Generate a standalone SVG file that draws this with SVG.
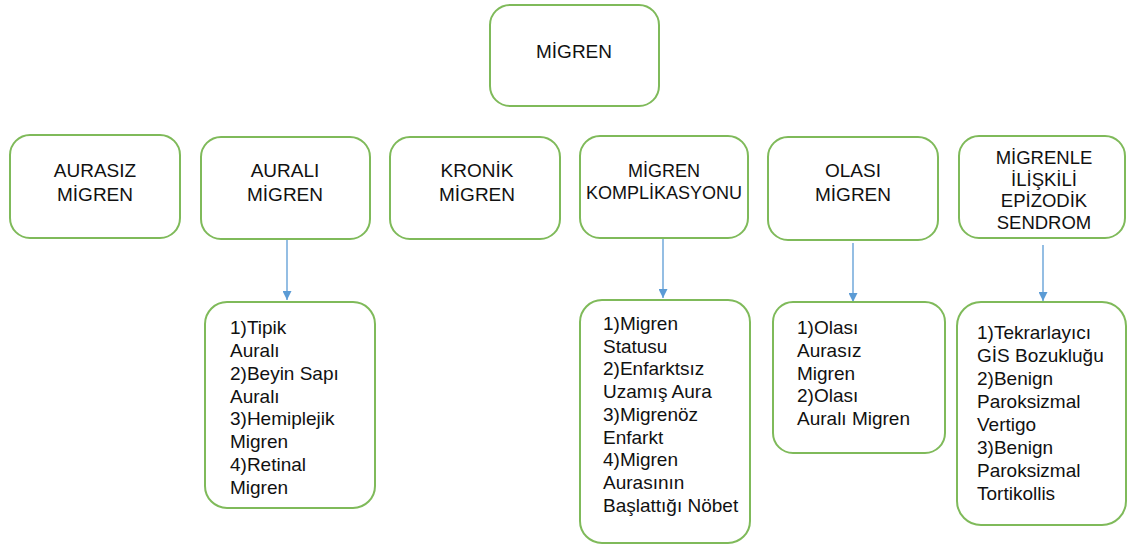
<svg xmlns="http://www.w3.org/2000/svg" width="1127" height="544" viewBox="0 0 1127 544">
<style>
.box{fill:#fff;stroke:#7fba5a;stroke-width:2}
.t{font-family:"Liberation Sans",Arial,sans-serif;font-size:19px;fill:#111}
.c{text-anchor:middle}
.con{stroke:#5b9bd5;stroke-width:1.3;fill:none}
</style>
<defs>
<marker id="ah" viewBox="0 0 10 10" refX="10" refY="5" markerWidth="9" markerHeight="9" markerUnits="userSpaceOnUse" orient="auto">
<path d="M0,0 L10,5 L0,10 z" fill="#5b9bd5"/>
</marker>
</defs>
<rect width="1127" height="544" fill="#fff"/>
<g id="root"><rect class="box" x="490" y="5" width="169" height="101" rx="20"/><text class="t c" x="574" y="58">MİGREN</text></g>
<g id="aurasiz"><rect class="box" x="10" y="135" width="170" height="103" rx="20"/><text class="t c" x="95" y="177">AURASIZ</text><text class="t c" x="95" y="200.5">MİGREN</text></g>
<g id="aurali"><rect class="box" x="201" y="137" width="169" height="102" rx="20"/><text class="t c" x="285" y="177">AURALI</text><text class="t c" x="285" y="200.5">MİGREN</text></g>
<g id="kronik"><rect class="box" x="390" y="137" width="170" height="102" rx="20"/><text class="t c" x="477" y="177">KRONİK</text><text class="t c" x="477" y="200.5">MİGREN</text></g>
<g id="komplikasyon"><rect class="box" x="580" y="136" width="168" height="102" rx="20"/><text class="t c" x="664" y="177" style="font-size:18px">MİGREN</text><text class="t c" x="664" y="198.5" style="font-size:18px">KOMPLİKASYONU</text></g>
<g id="olasi"><rect class="box" x="768" y="137" width="170" height="103" rx="20"/><text class="t c" x="853" y="177">OLASI</text><text class="t c" x="853" y="200.5">MİGREN</text></g>
<g id="epizodik"><rect class="box" x="959" y="136" width="166" height="102" rx="20"/><text class="t c" x="1044" y="164" style="font-size:18.5px">MİGRENLE</text><text class="t c" x="1044" y="185.5" style="font-size:18.5px">İLİŞKİLİ</text><text class="t c" x="1044" y="207" style="font-size:18.5px">EPİZODİK</text><text class="t c" x="1044" y="228.5" style="font-size:18.5px">SENDROM</text></g>
<g id="connectors">
<line class="con" x1="287" y1="240" x2="287" y2="300" marker-end="url(#ah)"/>
<line class="con" x1="663" y1="239" x2="663" y2="298" marker-end="url(#ah)"/>
<line class="con" x1="853" y1="243" x2="853" y2="302" marker-end="url(#ah)"/>
<line class="con" x1="1043" y1="245" x2="1043" y2="301" marker-end="url(#ah)"/>
</g>
<g id="aurali-list"><rect class="box" x="205" y="302" width="170" height="206" rx="22"/>
<text class="t" x="230" y="334">1)Tipik</text><text class="t" x="230" y="357">Auralı</text><text class="t" x="230" y="380">2)Beyin Sapı</text><text class="t" x="230" y="403">Auralı</text><text class="t" x="230" y="425">3)Hemiplejik</text><text class="t" x="230" y="448">Migren</text><text class="t" x="230" y="471">4)Retinal</text><text class="t" x="230" y="494">Migren</text></g>
<g id="komplikasyon-list"><rect class="box" x="580" y="300" width="170" height="243" rx="22"/>
<text class="t" x="603" y="330">1)Migren</text><text class="t" x="603" y="352.7">Statusu</text><text class="t" x="603" y="375.4">2)Enfarktsız</text><text class="t" x="603" y="398.1">Uzamış Aura</text><text class="t" x="603" y="420.8">3)Migrenöz</text><text class="t" x="603" y="443.5">Enfarkt</text><text class="t" x="603" y="466.2">4)Migren</text><text class="t" x="603" y="488.9">Aurasının</text><text class="t" x="603" y="511.6">Başlattığı Nöbet</text></g>
<g id="olasi-list"><rect class="box" x="773" y="302" width="172" height="151" rx="20"/>
<text class="t" x="797" y="334">1)Olası</text><text class="t" x="797" y="356.8">Aurasız</text><text class="t" x="797" y="379.5">Migren</text><text class="t" x="797" y="402.3">2)Olası</text><text class="t" x="797" y="425">Auralı Migren</text></g>
<g id="epizodik-list"><rect class="box" x="957" y="302" width="169" height="223" rx="24"/>
<text class="t" x="977" y="339">1)Tekrarlayıcı</text><text class="t" x="977" y="362">GİS Bozukluğu</text><text class="t" x="977" y="385">2)Benign</text><text class="t" x="977" y="408">Paroksizmal</text><text class="t" x="977" y="431">Vertigo</text><text class="t" x="977" y="454">3)Benign</text><text class="t" x="977" y="477">Paroksizmal</text><text class="t" x="977" y="500">Tortikollis</text></g>
</svg>
